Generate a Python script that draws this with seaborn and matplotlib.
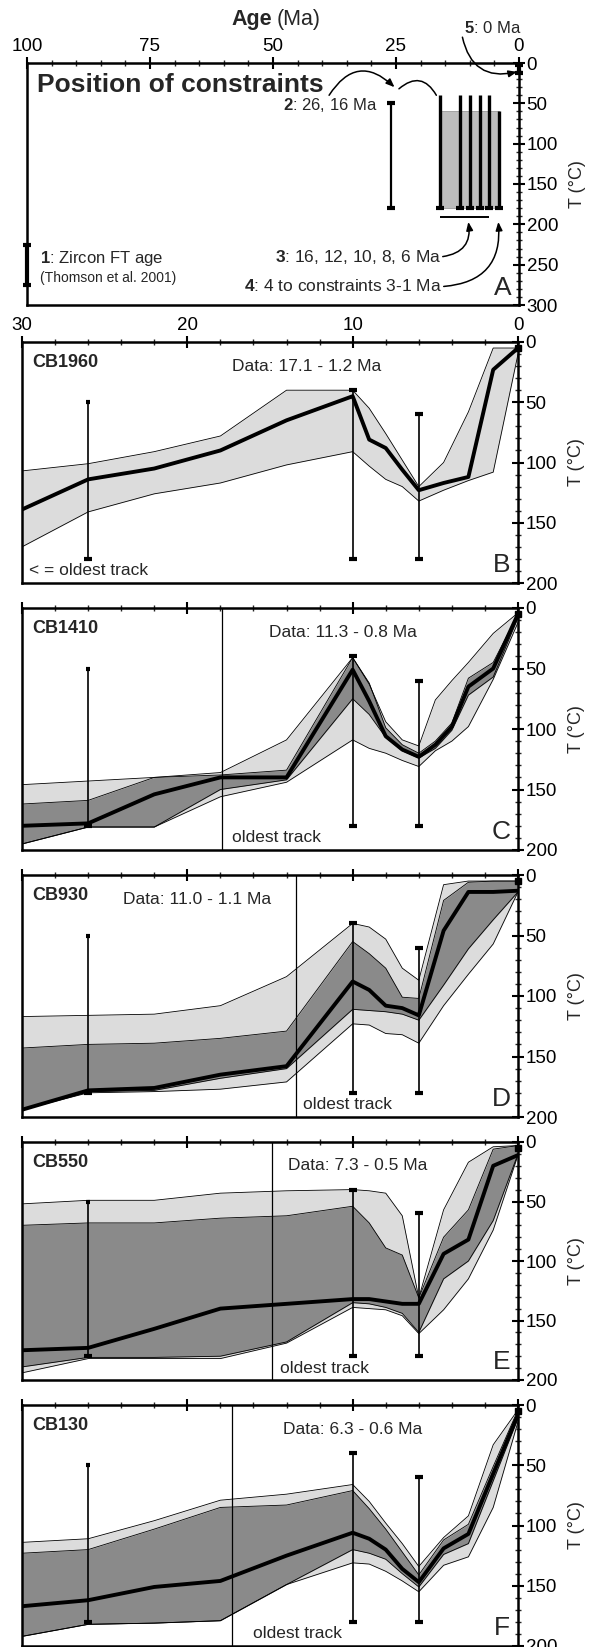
import matplotlib
matplotlib.use("Agg")
import matplotlib.pyplot as plt
from matplotlib.patches import Rectangle
from matplotlib.ticker import MultipleLocator, NullFormatter
import pandas as pd
import seaborn as sns

sns.set_style("ticks")
plt.rcParams["font.family"] = ["Liberation Sans", "DejaVu Sans"]
plt.rcParams["mathtext.fontset"] = "custom"
plt.rcParams["mathtext.rm"] = "Liberation Sans"
plt.rcParams["mathtext.bf"] = "Liberation Sans:bold"

# ── Colours ──────────────────────────────────────────────────────
LIGHT = "#dcdcdc"    # acceptable fit envelope
DARK = "#8a8a8a"     # good fit envelope
BOXGREY = "#bdbdbd"

# ── Panel A: constraint positions (Ma, °C) ──────────────────────
ZFT_AGE, ZFT_T = 100, (225, 275)
C2_AGE, C2_T = 26, (50, 180)
C3_AGES, C3_T = [16, 12, 10, 8, 6], (40, 180)
C4_AGE, C4_T = 4, (60, 180)
C5_AGE, C5_T = 0, (2, 12)
BOX_AGES, BOX_T = (16.3, 4), (60, 180)

# ── Panels B–F: constraints used in the models ──────────────────
CON_AGES = [26, 10, 6]
CON_TOP = [50, 40, 60]
CON_BOT = [180, 180, 180]

# ── Modelled t–T paths (age Ma, temperature °C) ─────────────────
AGES = [30, 26, 22, 18, 14, 10, 9, 8, 7, 6, 4.5, 3, 1.5, 0]
AGES_C = [30, 26, 22, 18, 14, 10, 9, 8, 7, 6, 5, 4, 3, 1.5, 0]

B_MEAN = [139, 114, 105, 90, 65, 45, 81, 88, 106, 123, 117, 112, 23, 5]
B_ACC_HI = [107, 101, 91, 78, 40, 40, 55, 76, 98, 120, 100, 58, 5, 5]
B_ACC_LO = [170, 141, 126, 117, 102, 91, 103, 114, 120, 132, 123, 115, 108, 10]

C_MEAN = [180, 178, 154, 140, 140, 51, 77, 106, 117, 123, 113, 98, 65, 50, 5]
C_ACC_HI = [146, 143, 140, 136, 109, 41, 63, 94, 109, 114, 76, 60, 45, 21, 4]
C_GOOD_HI = [162, 159, 140, 138, 134, 41, 62, 99, 113, 120, 110, 95, 58, 45, 5]
C_GOOD_LO = [195, 181, 181, 150, 142, 75, 88, 107, 118, 124, 116, 101, 72, 57, 8]
C_ACC_LO = [195, 181, 181, 156, 144, 109, 116, 120, 126, 131, 118, 110, 98, 59, 12]

D_MEAN = [194, 178, 176, 165, 158, 88, 95, 108, 110, 116, 46, 14, 14, 13]
D_ACC_HI = [117, 116, 115, 108, 84, 40, 43, 53, 77, 87, 8, 5, 5, 5]
D_GOOD_HI = [143, 140, 139, 135, 129, 55, 65, 77, 101, 102, 21, 6, 5, 5]
D_GOOD_LO = [194, 179, 178, 168, 160, 111, 112, 113, 115, 120, 91, 61, 37, 14]
D_ACC_LO = [194, 180, 179, 177, 171, 123, 124, 131, 132, 139, 108, 82, 57, 14]

E_MEAN = [175, 173, 157, 140, 136, 132, 132, 134, 136, 136, 94, 82, 20, 11]
E_ACC_HI = [52, 49, 49, 43, 41, 40, 41, 43, 62, 131, 57, 17, 4, 3]
E_GOOD_HI = [70, 68, 68, 64, 62, 54, 68, 89, 95, 131, 80, 57, 6, 3]
E_GOOD_LO = [189, 181, 181, 180, 168, 135, 136, 139, 144, 160, 115, 100, 66, 10]
E_ACC_LO = [194, 182, 182, 182, 169, 139, 140, 141, 146, 161, 141, 115, 74, 11]

F_MEAN = [167, 162, 151, 146, 125, 106, 111, 120, 136, 147, 119, 107, 57, 8]
F_ACC_HI = [114, 111, 96, 79, 74, 66, 80, 98, 115, 134, 110, 92, 33, 4]
F_GOOD_HI = [123, 120, 103, 85, 83, 71, 86, 103, 122, 141, 112, 99, 51, 4]
F_GOOD_LO = [192, 182, 181, 179, 149, 120, 123, 128, 140, 151, 124, 115, 63, 11]
F_ACC_LO = [192, 182, 181, 179, 149, 131, 132, 138, 146, 155, 133, 126, 85, 14]

W, H = 593, 1647
TICK_FS = 13.5


def rect(l, r, t, b):
    return [l / W, 1 - b / H, (r - l) / W, (b - t) / H]


def style(ax, xmax, ymax, xmaj, xmin, labels=True):
    ax.set_xlim(xmax, 0)
    ax.set_ylim(ymax, 0)
    ax.xaxis.tick_top()
    ax.yaxis.tick_right()
    ax.yaxis.set_label_position("right")
    ax.xaxis.set_major_locator(MultipleLocator(xmaj))
    ax.xaxis.set_minor_locator(MultipleLocator(xmin))
    ax.yaxis.set_major_locator(MultipleLocator(50))
    ax.yaxis.set_minor_locator(MultipleLocator(10))
    ax.tick_params(which="major", direction="inout", length=8, width=1.5,
                   labelsize=TICK_FS, pad=1.5, colors="black")
    ax.tick_params(which="minor", direction="inout", length=4, width=1)
    if not labels:
        ax.xaxis.set_major_formatter(NullFormatter())
    for s in ax.spines.values():
        s.set_linewidth(1.8)
        s.set_color("black")
    ax.set_xlabel("")
    ax.set_ylabel("T (°C)", fontsize=13, labelpad=8)


def bar(ax, age, top, bot, lw=1.2, top_ms=6):
    ax.vlines(age, top, bot, color="black", lw=lw, zorder=6, clip_on=False)
    ax.plot([age], [top], marker="_", ms=top_ms, mew=3, color="black",
            zorder=6, clip_on=False)
    ax.plot([age], [bot], marker="_", ms=6, mew=3, color="black",
            zorder=6, clip_on=False)


def band(ax, ages, lo, hi, color, z):
    ax.fill_between(ages, lo, hi, color=color, lw=0, zorder=z)
    for edge in (lo, hi):
        sns.lineplot(x=ages, y=edge, ax=ax, color="black", lw=0.6,
                     estimator=None, sort=False, zorder=4)


fig = plt.figure(figsize=(W / 100, H / 100), dpi=100)

# ════════════════════════════════════════════════════════════════
#  Panel A
# ════════════════════════════════════════════════════════════════
axA = fig.add_axes(rect(27, 519, 63, 305))
axA.add_patch(Rectangle((BOX_AGES[1], BOX_T[0]), BOX_AGES[0] - BOX_AGES[1],
                        BOX_T[1] - BOX_T[0], facecolor=BOXGREY,
                        edgecolor="#999999", lw=0.6, zorder=1))
bar(axA, ZFT_AGE, ZFT_T[0], ZFT_T[1], lw=3)
bar(axA, C2_AGE, C2_T[0], C2_T[1], lw=1.6)
for a in C3_AGES:
    bar(axA, a, C3_T[0], C3_T[1], lw=2.4, top_ms=0)
bar(axA, C4_AGE, C4_T[0], C4_T[1], lw=2.4, top_ms=0)
bar(axA, C5_AGE, C5_T[0], C5_T[1], lw=3)
axA.hlines(191, C3_AGES[0], C3_AGES[-1], color="black", lw=1.4)
style(axA, 100, 300, 25, 5)

axA.text(98, 27, "Position of constraints", fontsize=19, fontweight="bold",
         va="center", ha="left")
axA.text(28.7, 52, r"$\mathbf{2}$: 26, 16 Ma", fontsize=12, ha="right", va="center")
axA.text(97.3, 242, r"$\mathbf{1}$: Zircon FT age", fontsize=12, ha="left", va="center")
axA.text(97.3, 266, "(Thomson et al. 2001)", fontsize=10, ha="left", va="center")
axA.text(15.9, 240, r"$\mathbf{3}$: 16, 12, 10, 8, 6 Ma", fontsize=12.5,
         ha="right", va="center")
axA.text(15.7, 277, r"$\mathbf{4}$: 4 to constraints 3-1 Ma", fontsize=12.5,
         ha="right", va="center")
axA.text(3.3, 279, "A", fontsize=19, ha="center", va="center")
axA.text(5.3, -43, r"$\mathbf{5}$: 0 Ma", fontsize=12, ha="center",
         va="center", clip_on=False)

arrow = dict(arrowstyle="-|>,head_length=0.5,head_width=0.2", color="black",
             lw=1.1, shrinkA=0, shrinkB=0)
axA.annotate("", xy=(25.3, 30), xytext=(38.6, 40),
             arrowprops=dict(arrow, connectionstyle="arc3,rad=-0.6"))
axA.annotate("", xy=(16.8, 40), xytext=(24.4, 32),
             arrowprops=dict(arrowstyle="-", color="black", lw=1.1,
                             shrinkA=0, shrinkB=0,
                             connectionstyle="arc3,rad=-0.6"))
axA.annotate("", xy=(10.3, 197), xytext=(15.5, 240),
             arrowprops=dict(arrow, connectionstyle="arc3,rad=0.5"))
axA.annotate("", xy=(4.2, 197), xytext=(15.3, 277),
             arrowprops=dict(arrow, connectionstyle="arc3,rad=0.5"))
axA.annotate("", xy=(0.4, 11), xytext=(11.5, -32), annotation_clip=False,
             arrowprops=dict(arrow, connectionstyle="arc3,rad=0.5"))

fig.text(272 / W, 1 - 19 / H, "Age", fontsize=15.5, fontweight="bold",
         ha="right", va="center")
fig.text(277 / W, 1 - 19 / H, "(Ma)", fontsize=15.5, ha="left", va="center")

# ════════════════════════════════════════════════════════════════
#  Panels B–F
# ════════════════════════════════════════════════════════════════
PANELS = [
    dict(name="CB1960", letter="B", data="Data: 17.1 - 1.2 Ma", dpos=12.8,
         box=(342, 583), ages=AGES, mean=B_MEAN, acc=(B_ACC_LO, B_ACC_HI),
         good=None, oldest=None, otext=None),
    dict(name="CB1410", letter="C", data="Data: 11.3 - 0.8 Ma", dpos=10.6,
         box=(608, 850), ages=AGES_C, mean=C_MEAN, acc=(C_ACC_LO, C_ACC_HI),
         good=(C_GOOD_LO, C_GOOD_HI), oldest=17.9, otext=17.3),
    dict(name="CB930", letter="D", data="Data: 11.0 - 1.1 Ma", dpos=19.4,
         box=(875, 1117), ages=AGES, mean=D_MEAN, acc=(D_ACC_LO, D_ACC_HI),
         good=(D_GOOD_LO, D_GOOD_HI), oldest=13.4, otext=13.0),
    dict(name="CB550", letter="E", data="Data: 7.3 - 0.5 Ma", dpos=9.7,
         box=(1142, 1380), ages=AGES, mean=E_MEAN, acc=(E_ACC_LO, E_ACC_HI),
         good=(E_GOOD_LO, E_GOOD_HI), oldest=14.9, otext=14.4),
    dict(name="CB130", letter="F", data="Data: 6.3 - 0.6 Ma", dpos=10.0,
         box=(1405, 1646), ages=AGES, mean=F_MEAN, acc=(F_ACC_LO, F_ACC_HI),
         good=(F_GOOD_LO, F_GOOD_HI), oldest=17.3, otext=16.0),
]

for i, p in enumerate(PANELS):
    ax = fig.add_axes(rect(22, 518, p["box"][0], p["box"][1]))
    band(ax, p["ages"], p["acc"][0], p["acc"][1], LIGHT, 1)
    if p["good"] is not None:
        band(ax, p["ages"], p["good"][0], p["good"][1], DARK, 2)
    df = pd.DataFrame({"age": p["ages"], "T": p["mean"]})
    sns.lineplot(data=df, x="age", y="T", ax=ax, color="black", lw=2.8,
                 estimator=None, sort=False, zorder=7)
    for a, t, b in zip(CON_AGES, CON_TOP, CON_BOT):
        bar(ax, a, t, b, top_ms=3 if a == 26 else 6)
    ax.plot([0], [5], marker="s", ms=4, color="black", zorder=8, clip_on=False)

    style(ax, 30, 200, 10, 2, labels=(i == 0))

    ax.text(29.4, 17, p["name"], fontsize=13, fontweight="bold",
            ha="left", va="center")
    ax.text(p["dpos"], 20, p["data"], fontsize=12.5, ha="center", va="center")
    ax.text(1.0, 185, p["letter"], fontsize=19, ha="center", va="center")
    if p["oldest"] is None:
        ax.text(29.6, 190, "< = oldest track", fontsize=12.5,
                ha="left", va="center")
    else:
        ax.axvline(p["oldest"], color="black", lw=0.9, zorder=5)
        ax.text(p["otext"], 190, "oldest track", fontsize=12.5,
                ha="left", va="center")

fig.savefig("out.png", dpi=100)
